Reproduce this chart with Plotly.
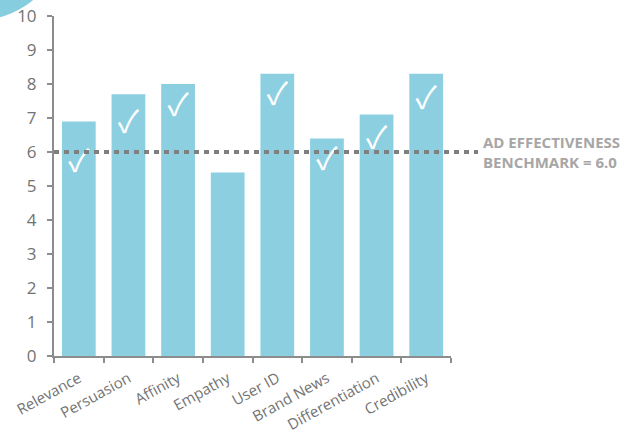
import plotly.graph_objects as go

categories = ["Relevance", "Persuasion", "Affinity", "Empathy", "User ID",
              "Brand News", "Differentiation", "Credibility"]
scores = [6.9, 7.7, 8.0, 5.4, 8.3, 6.4, 7.1, 8.3]
check_y = [5.65, 6.8, 7.3, None, 7.6, 5.7, 6.33, 7.5]
benchmark = 6.0
y_ticks = list(range(0, 11))

W, H = 637, 440
L, R, T, B = 54, 186, 16, 84
pw, ph = W - L - R, H - T - B

def px_x(p):
    return (p - L) / pw

def px_y(p):
    return (H - B - p) / ph

fig = go.Figure()
fig.add_trace(go.Bar(
    x=categories, y=scores,
    marker=dict(color="#8BCFE1", line=dict(width=0)),
    width=0.68,
    hoverinfo="skip",
))
cx = [c for c, v in zip(categories, check_y) if v is not None]
cy = [v for v in check_y if v is not None]
fig.add_trace(go.Scatter(
    x=cx, y=cy, mode="text", text=["✓"] * len(cx),
    textfont=dict(color="white", size=31, family="Noto Sans CJK JP"),
    hoverinfo="skip",
))

fig.add_shape(type="line", xref="paper", yref="y",
              x0=0, x1=px_x(478), y0=benchmark, y1=benchmark,
              line=dict(color="#7F7F7F", width=4, dash="5px,5px"), layer="above")

fig.add_annotation(xref="paper", yref="y", x=px_x(481), y=benchmark,
                   xanchor="left", yanchor="middle", align="left", showarrow=False,
                   text="<b>AD EFFECTIVENESS<br>BENCHMARK = %.1f</b>" % benchmark,
                   font=dict(size=15, color="#A6A6A6", family="Open Sans"))

# decorative corner circle
ccx, ccy, r = -22, -66, 86
fig.add_shape(type="circle", xref="paper", yref="paper",
              x0=px_x(ccx - r), x1=px_x(ccx + r), y0=px_y(ccy + r), y1=px_y(ccy - r),
              fillcolor="#86CDE0", line=dict(width=0), layer="below")

fig.update_layout(
    width=W, height=H,
    margin=dict(l=L, r=R, t=T, b=B, autoexpand=False),
    paper_bgcolor="white", plot_bgcolor="white",
    showlegend=False,
    bargap=0.32,
    font=dict(family="Open Sans", color="#737373"),
    xaxis=dict(
        automargin=False,
        showgrid=False, showline=True, linecolor="#8C8C8C", linewidth=2,
        ticks="outside", tickson="boundaries", ticklen=5, tickcolor="#8C8C8C", tickwidth=2,
        tickangle=-29, tickfont=dict(size=15, color="#737373"),
        ticklabelstandoff=6,
        range=[-0.5, 7.5],
    ),
    yaxis=dict(
        automargin=False,
        range=[0, 10], tickvals=y_ticks, showgrid=False, zeroline=False,
        showline=True, linecolor="#8C8C8C", linewidth=2,
        ticks="outside", ticklen=5, tickcolor="#8C8C8C", tickwidth=2,
        ticklabelstandoff=7,
        tickfont=dict(size=17, color="#737373"),
    ),
)

fig.write_html("out.html", config={"displayModeBar": False},
               post_script="document.body.style.margin='0';")
